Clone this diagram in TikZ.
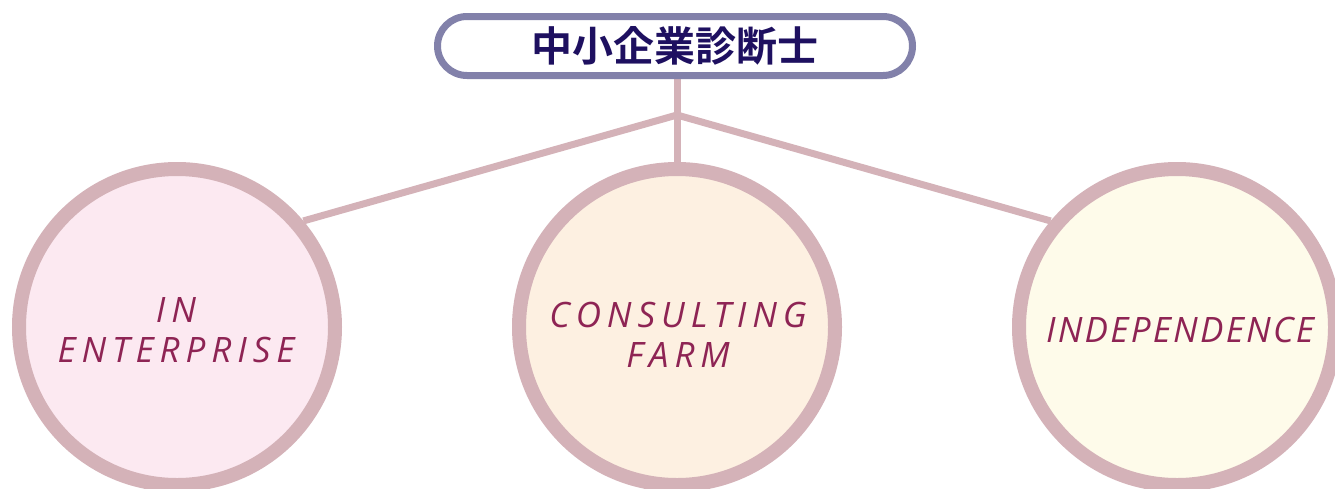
\documentclass[tikz,border=0pt]{standalone}
\usepackage{fontspec}
\setmainfont{Open Sans}
\newfontfamily\cjkfont{Noto Sans CJK JP Bold}
\newfontfamily\wideit{Open Sans}[LetterSpace=17]
\newfontfamily\narrowit{Open Sans}[LetterSpace=6.5]
\usetikzlibrary{backgrounds,calc}
\definecolor{titleline}{HTML}{8281AA}
\definecolor{titletext}{HTML}{1E1060}
\definecolor{ring}{HTML}{D4B2B8}
\definecolor{fillA}{HTML}{FCE9F1}
\definecolor{fillB}{HTML}{FDF0E1}
\definecolor{fillC}{HTML}{FEFBEA}
\definecolor{labeltext}{HTML}{8E2454}
\tikzset{
  titlebox/.style={draw=titleline, fill=white, line width=7pt, rounded corners=29.5pt,
    minimum width=475pt, minimum height=59pt, inner sep=0pt, text=titletext,
    font=\cjkfont\fontsize{41}{41}\selectfont},
  bubble/.style={circle, draw=ring, line width=14pt, minimum size=316pt, inner sep=0pt},
  lblwide/.style={text=labeltext, align=center, inner sep=0pt,
    font=\wideit\itshape\fontsize{35}{40}\selectfont},
  lblnarrow/.style={text=labeltext, align=center, inner sep=0pt,
    font=\narrowit\itshape\fontsize{35}{40}\selectfont},
  link/.style={draw=ring, line width=7pt}
}
\begin{document}
\begin{tikzpicture}[x=1pt,y=-1pt]
\useasboundingbox (0,0) rectangle (1335,488);
\node[titlebox] (T) at (675,46) {中小企業診断士};
\node[bubble, fill=fillA] (L) at (177,327) {};
\node[bubble, fill=fillB] (M) at (677,327) {};
\node[bubble, fill=fillC] (R) at (1177,327) {};
\node[lblwide] (Lt) at (176,330) {IN\\ENTERPRISE};
\node[lblwide] (Mt) at (678,335) {CONSULTING\\FARM};
\node[lblnarrow] (Rt) at (1180,330) {INDEPENDENCE};
\coordinate (J) at (677,115);
\begin{scope}[on background layer]
\draw[link] (T.south -| M.north) -- (M.north);
\draw[link] (J) -- (L.40);
\draw[link] (J) -- (R.140);
\end{scope}
\end{tikzpicture}
\end{document}
